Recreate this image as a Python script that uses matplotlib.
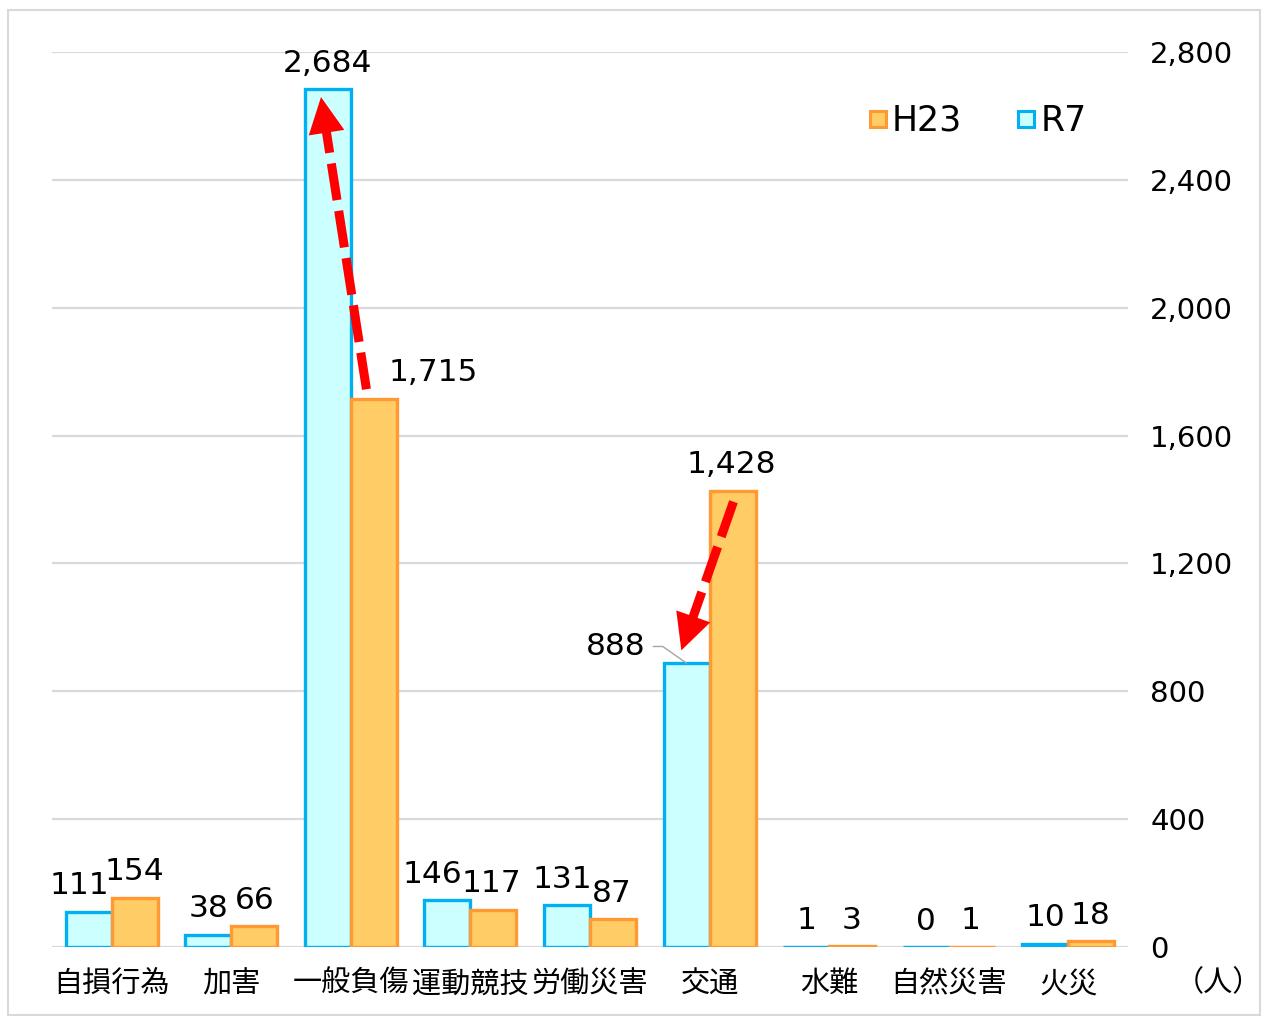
import numpy as np
import matplotlib.pyplot as plt
from matplotlib.patches import Polygon, Rectangle
from matplotlib.lines import Line2D

plt.rcParams['font.family'] = ['Noto Sans CJK JP', 'DejaVu Sans']
NUM_FONT = 'DejaVu Sans'

categories = ['自損行為', '加害', '一般負傷', '運動競技', '労働災害', '交通', '水難', '自然災害', '火災']
r7 = [111, 38, 2684, 146, 131, 888, 1, 0, 10]
h23 = [154, 66, 1715, 117, 87, 1428, 3, 1, 18]
yticks = [0, 400, 800, 1200, 1600, 2000, 2400, 2800]

# label x shifts (pixels) where Excel moved them
r7_dx = [-9, 0, 0, -15, -5, 0, 0, 0, 0]
h23_dx = [0, 0, 59, -2, -1, -1, -1, -1, -1]

c_r7_face, c_r7_edge = '#CCFFFF', '#00B0F0'
c_h23_face, c_h23_edge = '#FFCC66', '#FF9933'

fig = plt.figure(figsize=(12.63, 10.19), dpi=100)
ax = fig.add_axes([52 / 1263, 72 / 1019, 1076 / 1263, 895 / 1019])

x = np.arange(len(categories))
w = 0.385
ax.bar(x - w / 2, r7, w, color=c_r7_face, edgecolor=c_r7_edge, linewidth=2.4, zorder=3)
ax.bar(x + w / 2, h23, w, color=c_h23_face, edgecolor=c_h23_edge, linewidth=2.4, zorder=3)

ax.set_xlim(-0.5, len(categories) - 0.5)
ax.set_ylim(0, 2800)
ax.set_yticks(yticks)
ax.set_yticklabels([f'{v:,}' for v in yticks], fontsize=21, family=NUM_FONT)
ax.yaxis.tick_right()
ax.tick_params(axis='y', length=0, pad=16)
ax.set_xticks(x)
ax.set_xticklabels(categories, fontsize=21)
ax.tick_params(axis='x', length=0, pad=16)
ax.grid(axis='y', color='#D9D9D9', linewidth=1.6, zorder=0)
for s in ax.spines.values():
    s.set_visible(False)

lab_kw = dict(fontsize=22.5, family=NUM_FONT, ha='center', va='baseline',
              textcoords='offset points', zorder=5)
k = categories.index('交通')
for i in range(len(categories)):
    if i == k:
        continue
    ax.annotate(f'{r7[i]:,}', (x[i] - w / 2, r7[i]), xytext=(r7_dx[i] * 0.72, 12.5), **lab_kw)
for i in range(len(categories)):
    ax.annotate(f'{h23[i]:,}', (x[i] + w / 2, h23[i]), xytext=(h23_dx[i] * 0.72, 12.5), **lab_kw)

# 888 label with leader line
ax.annotate(f'{r7[k]:,}', (x[k] - w / 2, r7[k]), xytext=(-51, 12), fontsize=22.5, family=NUM_FONT,
            ha='center', va='center', textcoords='offset points', zorder=5)
ax.annotate('', (x[k] - w / 2, r7[k]), xytext=(-24, 12), textcoords='offset points',
            arrowprops=dict(arrowstyle='-', color='#A6A6A6', lw=1.0,
                            connectionstyle='angle,angleA=0,angleB=-35,rad=0', shrinkA=0, shrinkB=0))

# red dashed arrows (H23 -> R7), dashed shaft + solid head
j = categories.index('一般負傷')
arrows = [((x[j] + 0.13, h23[j] + 30), (x[j] - 0.25, r7[j] - 25)),
          ((x[k] + 0.2, h23[k] - 35), (x[k] - 0.236, r7[k] + 40))]
to_px = ax.transData
to_data = ax.transData.inverted()
head_len, head_w = 36, 36
for tail, tip in arrows:
    p0 = to_px.transform(tail)
    p1 = to_px.transform(tip)
    d = (p1 - p0) / np.hypot(*(p1 - p0))
    n = np.array([-d[1], d[0]])
    base = p1 - d * head_len
    shaft = to_data.transform(np.array([p0, base + d * 2]))
    ax.plot(shaft[:, 0], shaft[:, 1], color='#FF0000', lw=6.5, ls=(0, (4.1, 1.2)),
            solid_capstyle='butt', zorder=6)
    tri = to_data.transform(np.array([p1, base + n * head_w / 2, base - n * head_w / 2]))
    ax.add_patch(Polygon(tri, closed=True, facecolor='#FF0000', edgecolor='none', zorder=6))

# legend
handles = [Line2D([], [], marker='s', ls='none', markersize=11, markerfacecolor=c_h23_face,
                  markeredgecolor=c_h23_edge, markeredgewidth=2.2),
           Line2D([], [], marker='s', ls='none', markersize=11, markerfacecolor=c_r7_face,
                  markeredgecolor=c_r7_edge, markeredgewidth=2.2)]
ax.legend(handles, ['H23', 'R7'], loc='center', bbox_to_anchor=(0.859, 0.923), ncol=2,
          frameon=False, prop={'family': NUM_FONT, 'size': 25}, handletextpad=0.05,
          columnspacing=1.5, handlelength=0.7)

fig.text(1218 / 1263, 1 - 983 / 1019, '（人）', fontsize=21, ha='center', va='center')

fig.patches.append(Rectangle((8 / 1263, 4 / 1019), 1252 / 1263, 1005 / 1019, transform=fig.transFigure,
                             fill=False, edgecolor='#D9D9D9', linewidth=1.5))

fig.savefig('out.png', dpi=100)
